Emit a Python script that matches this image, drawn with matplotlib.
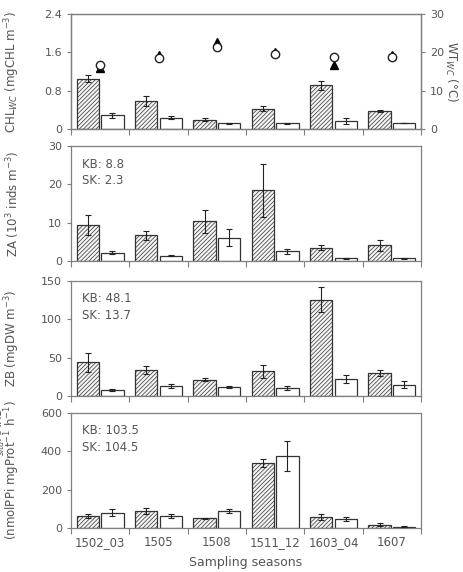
import numpy as np
import matplotlib
matplotlib.use("Agg")
import matplotlib.pyplot as plt

seasons = ["1502_03", "1505", "1508", "1511_12", "1603_04", "1607"]

# CHL water column (KB hatched, SK white)
chl_kb = [1.05, 0.58, 0.19, 0.42, 0.91, 0.37]
chl_kb_err = [0.07, 0.11, 0.03, 0.05, 0.09, 0.02]
chl_sk = [0.29, 0.24, 0.12, 0.12, 0.16, 0.12]
chl_sk_err = [0.05, 0.04, 0.01, 0.01, 0.06, 0.005]
# water temperature (right axis)
wt_kb = [15.9, 19.3, 22.8, 20.2, 16.6, 19.3]
wt_sk = [16.7, 18.6, 21.5, 19.6, 18.8, 18.7]

za_kb = [9.5, 6.7, 10.4, 18.5, 3.5, 4.1]
za_kb_err = [2.6, 1.1, 3.0, 6.9, 0.7, 1.4]
za_sk = [2.2, 1.4, 6.1, 2.5, 0.7, 0.7]
za_sk_err = [0.3, 0.1, 2.3, 0.6, 0.1, 0.05]

zb_kb = [43.8, 33.8, 21.3, 32.0, 125.7, 30.0]
zb_kb_err = [12, 5, 2, 8, 16.5, 4.5]
zb_sk = [7.8, 13.0, 11.7, 10.4, 22.0, 15.0]
zb_sk_err = [1.5, 2.5, 1, 2, 5, 5]

aars_kb = [62.6, 88.7, 50.4, 339, 57, 17]
aars_kb_err = [12, 15, 4, 19, 15, 8]
aars_sk = [80, 62.6, 90, 374, 48.7, 7]
aars_sk_err = [17, 13, 10, 78, 10, 2]

grey = "#7f7f7f"
txt = "#555555"
plt.rcParams["hatch.color"] = "#666666"
plt.rcParams["hatch.linewidth"] = 0.5
plt.rcParams["font.family"] = "DejaVu Sans"

fig = plt.figure(figsize=(4.63, 5.72), dpi=100)
W, H = 463, 572
panels = [(14, 129), (146, 261), (281, 396), (413, 528)]
axes = [fig.add_axes([71 / W, 1 - b / H, 350 / W, (b - t) / H]) for t, b in panels]

x = np.arange(len(seasons))
bw = 0.385
off = 0.21


def draw(ax, kb, kbe, sk, ske, ymax, ticks):
    ax.bar(x - off, kb, bw, color="#f4f4f4", edgecolor="#333333", hatch="////////",
           linewidth=0.9, zorder=2)
    ax.bar(x + off, sk, bw, color="white", edgecolor="#333333", linewidth=0.9, zorder=2)
    ax.errorbar(x - off, kb, yerr=kbe, fmt="none", ecolor="#222222", elinewidth=0.8,
                capsize=2, capthick=0.8, zorder=3)
    ax.errorbar(x + off, sk, yerr=ske, fmt="none", ecolor="#222222", elinewidth=0.8,
                capsize=2, capthick=0.8, zorder=3)
    ax.set_xlim(-0.5, len(seasons) - 0.5)
    ax.set_ylim(0, ymax)
    ax.set_yticks(ticks)
    ax.set_xticks(np.arange(len(seasons) + 1) - 0.5)
    ax.set_xticklabels([])
    ax.tick_params(axis="x", which="major", length=4, color=grey, width=0.8)
    ax.tick_params(axis="y", length=3, color=grey, width=0.8, labelsize=8, labelcolor=txt)
    for s in ax.spines.values():
        s.set_color(grey)
        s.set_linewidth(0.9)


ax1, ax2, ax3, ax4 = axes
draw(ax1, chl_kb, chl_kb_err, chl_sk, chl_sk_err, 2.4, [0, 0.8, 1.6, 2.4])
ax1.set_yticklabels(["0", "0.8", "1.6", "2.4"])
draw(ax2, za_kb, za_kb_err, za_sk, za_sk_err, 30, [0, 10, 20, 30])
draw(ax3, zb_kb, zb_kb_err, zb_sk, zb_sk_err, 150, [0, 50, 100, 150])
draw(ax4, aars_kb, aars_kb_err, aars_sk, aars_sk_err, 600, [0, 200, 400, 600])

# temperature on right axis
ax1r = ax1.twinx()
ax1r.plot(x, wt_kb, "^", color="black", ms=6, zorder=3)
ax1r.plot(x, wt_sk, "o", mfc="white", mec="#222222", mew=1.0, ms=6, zorder=4)
ax1r.set_ylim(0, 30)
ax1r.set_yticks([0, 10, 20, 30])
ax1r.tick_params(axis="y", length=3, color=grey, width=0.8, labelsize=8, labelcolor=txt)
for s in ax1r.spines.values():
    s.set_color(grey)
    s.set_linewidth(0.9)
ax1r.set_ylabel("WT$_{WC}$ (°C)", rotation=-90, fontsize=8.5, color=txt, va="center")
ax1r.yaxis.set_label_coords(1.087, 0.5)

lab = dict(fontsize=8.5, color=txt)
ax1.set_ylabel("CHL$_{WC}$ (mgCHL m$^{-3}$)", **lab)
ax2.set_ylabel("ZA (10$^3$ inds m$^{-3}$)", **lab)
ax3.set_ylabel("ZB (mgDW m$^{-3}$)", **lab)
ax4.set_ylabel("(nmolPPi mgProt$^{-1}$ h$^{-1}$)", **lab)
for ax in axes:
    ax.yaxis.set_label_coords(-0.14, 0.5)
fig.text(7 / W, 1 - 432 / H, "$_{situ}$AARS", rotation=90, fontsize=8.5,
         color=txt, ha="right", va="center")

notes = ["KB: 8.8\nSK: 2.3", "KB: 48.1\nSK: 13.7", "KB: 103.5\nSK: 104.5"]
for ax, note in zip([ax2, ax3, ax4], notes):
    ax.text(0.03, 0.9, note, transform=ax.transAxes, fontsize=8.5, color=txt,
            va="top", ha="left", linespacing=1.35)

ax4.set_xticks(x, minor=True)
ax4.set_xticklabels(seasons, minor=True, fontsize=8.5, color=txt)
ax4.tick_params(axis="x", which="minor", length=0, pad=6)
ax4.set_xlabel("Sampling seasons", fontsize=9, color=txt, labelpad=5)

fig.savefig("out.png", dpi=100)
